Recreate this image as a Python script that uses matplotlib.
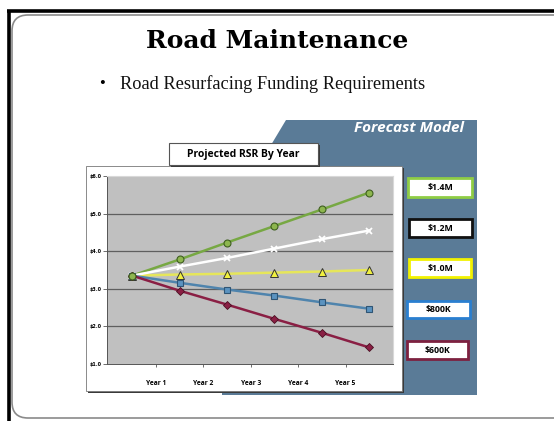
import matplotlib
matplotlib.use("Agg")
import matplotlib.pyplot as plt
from matplotlib.patches import Rectangle, Polygon, FancyBboxPatch

# ---- data ----
points = [0, 1, 2, 3, 4, 5]
year_labels = ["Year 1", "Year 2", "Year 3", "Year 4", "Year 5"]
year_pos = [0.5, 1.5, 2.5, 3.5, 4.5]
y_ticks = [1.0, 2.0, 3.0, 4.0, 5.0, 6.0]
y_tick_labels = ["$1.0", "$2.0", "$3.0", "$4.0", "$5.0", "$6.0"]

rsr_14m = [3.35, 3.78, 4.23, 4.67, 5.11, 5.56]
rsr_12m = [3.35, 3.59, 3.82, 4.07, 4.32, 4.55]
rsr_10m = [3.35, 3.38, 3.40, 3.43, 3.46, 3.50]
rsr_800k = [3.35, 3.16, 2.98, 2.82, 2.64, 2.47]
rsr_600k = [3.35, 2.95, 2.58, 2.20, 1.83, 1.44]

legend_labels = ["$1.4M", "$1.2M", "$1.0M", "$800K", "$600K"]

W, H = 554, 421
fig = plt.figure(figsize=(W / 100, H / 100), dpi=100)
fig.patch.set_facecolor("white")

bg = fig.add_axes([0, 0, 1, 1])
bg.set_xlim(0, W)
bg.set_ylim(H, 0)
bg.axis("off")

# slide frame
bg.plot([8.5, 8.5], [10, H], color="black", lw=2.6, solid_capstyle="butt")
bg.plot([7, W], [11, 11], color="black", lw=2.6, solid_capstyle="butt")
frame = FancyBboxPatch((12, 15), 560, 403, boxstyle="round,pad=0,rounding_size=16",
                       fc="white", ec="#8a8a8a", lw=1.2)
bg.add_patch(frame)

bg.text(277, 41, "Road Maintenance", ha="center", va="center",
        fontsize=18, fontweight="bold", family="DejaVu Serif")
bg.text(102, 84, "\u2022", ha="center", va="center", fontsize=12,
        family="Liberation Serif")
bg.text(120, 84, "Road Resurfacing Funding Requirements", ha="left", va="center",
        fontsize=13.2, family="Liberation Serif", color="#111111")

# blue panel
panel = Polygon([(286, 120), (477, 120), (477, 395), (222, 395), (222, 200), (262, 160)],
                closed=True, fc="#5a7b97", ec="none")
bg.add_patch(panel)
bg.text(464, 128, "Forecast Model", ha="right", va="center", color="white",
        fontsize=11, fontweight="bold", style="italic", family="Open Sans")

# chart box with shadow
bg.add_patch(Rectangle((88, 168), 316, 225, fc="#3a3a3a", ec="none"))
bg.add_patch(Rectangle((86, 166), 316, 225, fc="white", ec="#777777", lw=0.6))

# title box with shadow
bg.add_patch(Rectangle((171, 145), 149, 22, fc="#3a3a3a", ec="none"))
bg.add_patch(Rectangle((169, 143), 149, 22, fc="white", ec="#555555", lw=0.8))
bg.text(243.5, 154.5, "Projected RSR By Year", ha="center", va="center",
        fontsize=7.5, fontweight="bold", family="Open Sans")

# legend boxes
leg_colors = ["#8fcd45", "#111111", "#f2f200", "#2a7fd0", "#7d2140"]
leg_boxes = [(408, 178, 64, 19), (409, 219, 63, 18), (409, 259, 62, 18),
             (407, 301, 63, 17), (407, 341, 61, 18)]
for (x, y, w, h), c, lab in zip(leg_boxes, leg_colors, legend_labels):
    bg.add_patch(Rectangle((x, y), w, h, fc="white", ec=c, lw=2))
    bg.text(x + w / 2, y + h / 2 + 0.5, lab, ha="center", va="center",
            fontsize=6.3, fontweight="bold", family="Open Sans")

# plot axes
ax = fig.add_axes([107 / W, 1 - 364 / H, 286 / W, 188 / H])
ax.set_facecolor("#c0c0c0")
ax.set_xlim(-0.53, 5.5)
ax.set_ylim(1.0, 6.0)
for y in [2, 3, 4, 5]:
    ax.axhline(y, color="#5f5f5f", lw=0.9, zorder=1)

ax.plot(points, rsr_14m, color="#77a843", lw=1.8, marker="o", ms=5,
        mfc="#8db64f", mec="#3f5f20", mew=0.8, zorder=5)
ax.plot(points, rsr_12m, color="white", lw=1.8, marker="x", ms=5,
        mec="white", mew=1.3, zorder=5)
ax.plot(points, rsr_10m, color="#e6e65a", lw=1.8, marker="^", ms=5.5,
        mfc="#f0f040", mec="#333333", mew=0.7, zorder=4)
ax.plot(points, rsr_800k, color="#4f84ad", lw=1.8, marker="s", ms=5,
        mfc="#5b93c0", mec="#2f5575", mew=0.8, zorder=5)
ax.plot(points, rsr_600k, color="#8a1f44", lw=1.8, marker="D", ms=3.8,
        mfc="#8a1f44", mec="#4a0f22", mew=0.6, zorder=5)
ax.plot([0], [3.35], marker="o", ms=5, mfc="#8db64f", mec="#3f5f20", mew=0.8, zorder=6)

ax.set_yticks(y_ticks)
ax.set_yticklabels(y_tick_labels, fontsize=3.5, fontweight="bold")
ax.set_xticks(year_pos)
ax.set_xticklabels(year_labels, fontsize=4.8, fontweight="bold", family="Open Sans")
ax.tick_params(axis="y", length=3, width=0.6, pad=1, color="#555555")
ax.tick_params(axis="x", length=2.5, width=0.6, pad=9, color="#555555")
for s in ["top", "right"]:
    ax.spines[s].set_color("#d8d8d8")
    ax.spines[s].set_linewidth(0.8)
for s in ["left", "bottom"]:
    ax.spines[s].set_color("#555555")
    ax.spines[s].set_linewidth(0.7)

fig.savefig("out.png", dpi=100)
